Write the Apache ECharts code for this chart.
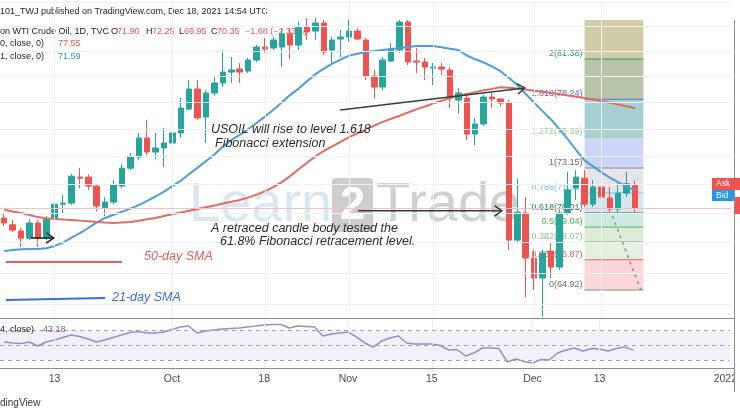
<!DOCTYPE html>
<html>
<head>
<meta charset="utf-8">
<script src="https://cdn.jsdelivr.net/npm/echarts@6/dist/echarts.min.js"></script>
<style>
html,body{margin:0;padding:0;background:#fff;}
#chart{width:740px;height:416px;}
</style>
</head>
<body>
<div id="chart"></div>
<script>
// ---------- categories (daily bars) ----------
const dates = [
'2021-09-03','2021-09-06','2021-09-07','2021-09-08','2021-09-09','2021-09-10','2021-09-13','2021-09-14','2021-09-15','2021-09-16','2021-09-17','2021-09-20','2021-09-21','2021-09-22','2021-09-23','2021-09-24','2021-09-27','2021-09-28','2021-09-29','2021-09-30',
'2021-10-01','2021-10-04','2021-10-05','2021-10-06','2021-10-07','2021-10-08','2021-10-11','2021-10-12','2021-10-13','2021-10-14','2021-10-15','2021-10-18','2021-10-19','2021-10-20','2021-10-21','2021-10-22','2021-10-25','2021-10-26','2021-10-27','2021-10-28','2021-10-29',
'2021-11-01','2021-11-02','2021-11-03','2021-11-04','2021-11-05','2021-11-08','2021-11-09','2021-11-10','2021-11-11','2021-11-12','2021-11-15','2021-11-16','2021-11-17','2021-11-18','2021-11-19','2021-11-22','2021-11-23','2021-11-24','2021-11-25','2021-11-26','2021-11-29','2021-11-30',
'2021-12-01','2021-12-02','2021-12-03','2021-12-06','2021-12-07','2021-12-08','2021-12-09','2021-12-10','2021-12-13','2021-12-14','2021-12-15','2021-12-16','2021-12-17','2021-12-20','2021-12-21','2021-12-22','2021-12-23','2021-12-24','2021-12-27','2021-12-28','2021-12-29','2021-12-30','2021-12-31',
'2022-01-03'];

const tickLabels = {'2021-09-13':'13','2021-10-01':'Oct','2021-10-18':'18','2021-11-01':'Nov','2021-11-15':'15','2021-12-01':'Dec','2021-12-13':'13','2022-01-03':'2022'};

// ---------- OHLC ----------
const open = [69.66,69.20,68.77,68.30,69.32,68.30,69.59,70.61,70.68,72.50, 72.50,71.87,70.34,70.75,71.87,73.14,73.94,75.33,74.30,74.60, 74.96,75.70,77.49,79.03,76.89,78.72,79.50,80.35,80.59,80.43, 81.30,82.34,82.26,82.34,83.40,82.50,83.97,83.64,84.30,82.10, 82.99,83.15,83.64,82.91,80.04,79.18,81.22,82.10,84.38,81.22, 81.14,80.67,80.75,80.51,78.18,78.33,75.62,76.37,78.41,78.26, 77.95,68.17,70.00,66.98,65.69,67.44,66.39,70.00,71.73,72.43, 70.61,71.80,71.03,70.27,71.38,71.90];
const high = [69.93,69.52,68.97,69.59,69.52,69.79,71.03,71.24,72.71,73.14, 72.71,72.01,71.10,72.29,73.43,74.23,75.70,76.67,75.70,76.07, 76.14,78.33,79.73,79.73,78.95,79.96,82.10,81.54,81.06,81.46, 82.50,83.07,83.15,83.88,83.88,84.38,84.72,84.72,84.55,83.15, 83.72,84.55,83.88,83.07,80.51,81.54,82.67,84.55,84.55,82.26, 81.46,81.06,81.06,80.75,79.10,78.72,76.82,78.56,78.72,78.33, 78.18,72.40,71.10,67.51,67.51,67.97,70.20,72.86,73.00,73.00, 72.29,72.86,71.80,72.08,72.86,72.25];
const low = [69.11,68.70,67.71,68.17,67.71,68.17,69.38,69.99,70.54,71.73, 71.59,70.10,69.79,70.61,71.73,73.00,73.72,74.09,73.79,73.21, 74.30,75.33,77.42,76.67,74.96,78.50,79.18,79.50,79.50,80.28, 81.14,81.86,82.10,80.75,81.40,82.10,82.91,82.91,81.70,80.90, 81.54,82.75,82.91,79.73,78.33,78.95,81.14,81.90,80.90,80.28, 79.73,79.34,80.12,77.57,77.19,75.18,74.82,76.22,77.57,77.72, 67.51,68.04,64.48,64.92,63.23,65.69,66.20,69.86,70.89,70.41, 70.41,70.41,70.00,70.00,71.10,69.95];
const close = [69.32,68.84,68.30,69.32,68.30,69.59,70.61,70.68,72.57,72.43, 71.87,70.48,70.75,71.94,73.14,73.94,75.33,74.30,74.60,74.96, 75.70,77.57,79.03,76.82,78.72,79.50,80.35,80.51,80.35,81.30, 82.34,82.18,82.91,83.40,82.50,83.95,83.56,84.30,81.94,82.91, 83.15,83.64,82.99,80.04,79.18,81.30,82.18,84.38,81.14,81.14, 80.75,80.75,80.59,78.33,78.72,75.62,76.37,78.41,78.26,77.95, 68.17,70.06,66.98,65.69,67.31,66.39,70.00,71.59,72.50,70.61, 71.80,71.10,70.27,71.38,72.03,70.35];

// ---------- indicators ----------
const sma21 = [67.44,67.51,67.56,67.58,67.58,67.63,67.78,68.00,68.34,68.64, 68.98,69.36,69.66,69.88,70.09,70.30,70.54,70.83,71.14,71.48, 71.87,72.25,72.72,73.18,73.65,74.12,74.70,75.17,75.56,75.99, 76.44,76.92,77.44,77.99,78.56,79.06,79.63,80.19,80.62,81.02, 81.34,81.66,81.81,81.94,82.02,82.10,82.18,82.26,82.34,82.42, 82.42,82.42,82.32,82.21,82.10,81.66,81.36,81.11,80.79,80.42, 79.91,79.34,78.64,77.98,77.34,76.71,75.99,75.25,74.45,73.70, 73.27,72.84,72.47,72.14,71.80,71.59];
const sma50 = [70.22,70.10,70.00,69.86,69.72,69.64,69.59,69.56,69.53,69.48, 69.44,69.39,69.35,69.32,69.35,69.38,69.47,69.57,69.66,69.80, 69.92,70.04,70.16,70.28,70.40,70.52,70.65,70.77,70.90,71.06, 71.27,71.51,71.80,72.15,72.58,73.06,73.53,73.99,74.38,74.72, 75.05,75.40,75.68,75.96,76.25,76.53,76.76,76.99,77.23,77.47, 77.69,77.91,78.13,78.35,78.51,78.65,78.79,78.93,79.04,79.17, 79.13,79.06,78.99,78.90,78.81,78.73,78.63,78.53,78.43,78.33, 78.23,78.11,77.98,77.84,77.70,77.55];
const rsi14 = [54,52.7,52,54,48.7,54,56.7,60,63.3,61.3, 58,54,56.7,60,63.3,66.7,68,66,66,67.3, 70.7,74,75.3,66,68.7,70,71.3,72,72.7,74, 75.3,76.7,77.3,77.3,72.7,75.3,74.7,74,62,64.7, 66,67.3,60.7,52.7,47.3,55.3,59.3,62,52.7,51.3, 51.3,51.3,49.3,43.3,44,35.3,39.3,46,46,45.3, 27.3,31.3,28,26,30.7,30,39.3,43.3,46,42, 45.3,44.7,42,45.3,47.3,43.18];
const rsiBands = [70, 50, 30];

// ---------- fibonacci drawing ----------
const fibRatios = ['0','0.236','0.382','0.5','0.618','0.786','1','1.272','1.618','2'];
const fibPrices = [64.92,66.87,68.07,69.04,70.01,71.39,73.15,75.39,78.24,81.38];
const fibTopPrice = 84.55;
const fibStart = '2021-12-09', fibEnd = '2021-12-20';
const fibFill = ['#f9d7d7','#e4f1e0','#d9edd7','#cfe8e2','#d7e5ee','#e4e4ea','#cdd6f8','#a7d0d2','#b8c4a8','#d1cca8'];
const fibLine = ['#8a8a8a','#ef6060','#9ccf9a','#5cb860','#2b8f80','#86c7e6','#8e8e8e','#a3cf8c','#4c6fd6','#3e9277'];
const fibText = ['#6d6d6d','#e85a55','#8cc58a','#4caf50','#1f7a6d','#7dc1e4','#6d6d6d','#9ccb86','#5a62d2','#3a9478'];
const fibTrend = [[72.3, 69.8], [75.7, 64.92]];

// ---------- user annotations (bar position, price) ----------
const arrows = [[3.16, 68.31, 5.87, 68.31], [39.95, 77.42, 61.88, 79.11], [42.07, 70.15, 59.17, 70.15]];
const legendRed = [0.21, 66.72, 14.0, 66.72];
const legendBlue = [0.21, 64.29, 12.0, 64.42];
const gridPrices = [64,66,68,70,72,74,76,78,80,82,84,86];
const vGridDates = ['2021-09-13','2021-10-01','2021-10-18','2021-11-01','2021-11-15','2021-12-01','2021-12-13'];

const candles = open.map((o, i) => [o, close[i], low[i], high[i]]);
const FONT = '"Liberation Sans", Arial, sans-serif';
const STEP = 8.48, NCAT = dates.length;

const option = {
  animation: false,
  backgroundColor: '#ffffff',
  grid: [
    {left: -6, top: 0, width: NCAT * STEP, height: 318},
    {left: -6, top: 318, width: NCAT * STEP, height: 50}
  ],
  xAxis: [
    {type: 'category', data: dates, gridIndex: 0, boundaryGap: true, show: false},
    {type: 'category', data: dates, gridIndex: 1, boundaryGap: true,
      axisLine: {show: false}, axisTick: {show: false}, splitLine: {show: false},
      axisLabel: {interval: (i, v) => tickLabels[v] !== undefined, formatter: v => tickLabels[v] || '',
        color: '#4d4d4d', fontSize: 10.5, margin: 6, fontFamily: FONT}}
  ],
  yAxis: [
    {type: 'log', logBase: 10, gridIndex: 0, min: 63.166, max: 86.22, show: false, splitLine: {show: false}},
    {type: 'value', gridIndex: 1, min: 19.33, max: 86, show: false, splitLine: {show: false}}
  ],
  series: [
    {type: 'line', xAxisIndex: 0, yAxisIndex: 0, data: [], z: 0, silent: true,
      markLine: {silent: true, symbol: ['none', 'none'], label: {show: false}, animation: false,
        lineStyle: {color: '#eff1f5', width: 1, type: 'solid'},
        data: gridPrices.map(p => ({yAxis: p})).concat(vGridDates.map(d => ({xAxis: d})))}},
    {type: 'line', xAxisIndex: 1, yAxisIndex: 1, data: [], z: 0, silent: true,
      markLine: {silent: true, symbol: ['none', 'none'], label: {show: false}, animation: false,
        lineStyle: {color: '#eff1f5', width: 1, type: 'solid'},
        data: vGridDates.map(d => ({xAxis: d}))}},
    {type: 'candlestick', name: 'USOIL', xAxisIndex: 0, yAxisIndex: 0, data: candles, barWidth: 6, z: 3,
      itemStyle: {color: '#26a69a', color0: '#ef5350', borderColor: '#26a69a', borderColor0: '#ef5350', borderWidth: 1},
      markLine: {silent: true, symbol: ['none', 'none'], label: {show: false}, animation: false,
        lineStyle: {color: '#f1c3c1', width: 1, type: 'solid'},
        data: [{yAxis: close[close.length - 1]}]}},
    {type: 'line', name: 'SMA 21', xAxisIndex: 0, yAxisIndex: 0, data: sma21, showSymbol: false, z: 4,
      lineStyle: {color: '#4d9ddb', width: 2}},
    {type: 'line', name: 'SMA 50', xAxisIndex: 0, yAxisIndex: 0, data: sma50, showSymbol: false, z: 4,
      lineStyle: {color: '#e46a62', width: 2}},
    {type: 'line', name: 'RSI', xAxisIndex: 1, yAxisIndex: 1, data: rsi14, showSymbol: false, z: 4,
      lineStyle: {color: '#9a8ad2', width: 1.5},
      markArea: {silent: true, itemStyle: {color: 'rgba(126,87,194,0.09)'},
        data: [[{yAxis: rsiBands[0]}, {yAxis: rsiBands[2]}]]},
      markLine: {silent: true, symbol: ['none', 'none'], label: {show: false}, animation: false,
        lineStyle: {color: '#a3a3a3', width: 1, type: [4, 4]},
        data: rsiBands.map(v => ({yAxis: v}))}}
  ]
};

const chart = echarts.init(document.getElementById('chart'));
chart.setOption(option);

const px = d => chart.convertToPixel({xAxisIndex: 0}, d);
const x0 = px(dates[0]), step = px(dates[1]) - x0;
const xf = f => x0 + f * step;
const yp = p => chart.convertToPixel({yAxisIndex: 0}, p);

const g = [];
function txt(x, y, text, color, size, o) {
  o = o || {};
  g.push({type: 'text', x: x, y: y, z: o.z == null ? 10 : o.z, silent: true,
    style: {text: text, fill: color, font: (o.style || '') + ' ' + (o.weight || '') + ' ' + size + 'px ' + FONT,
      align: o.align || 'left', textAlign: o.align || 'left', verticalAlign: o.va || 'middle', textVerticalAlign: o.va || 'middle'}});
}
function line(x1, y1, x2, y2, color, w, z, dash) {
  g.push({type: 'line', z: z, silent: true, shape: {x1: x1, y1: y1, x2: x2, y2: y2},
    style: {stroke: color, lineWidth: w, lineDash: dash || null}});
}
function rect(x, y, w, h, fill, z, r) {
  g.push({type: 'rect', z: z, silent: true, shape: {x: x, y: y, width: w, height: h, r: r || 0}, style: {fill: fill}});
}
function arrow(x1, y1, x2, y2, color) {
  line(x1, y1, x2, y2, color, 1.5, 10);
  const a = Math.atan2(y2 - y1, x2 - x1), L = 9, s = 0.62;
  g.push({type: 'polyline', z: 10, silent: true,
    shape: {points: [[x2 - L * Math.cos(a - s), y2 - L * Math.sin(a - s)], [x2, y2], [x2 - L * Math.cos(a + s), y2 - L * Math.sin(a + s)]]},
    style: {stroke: color, lineWidth: 1.5, fill: 'none'}});
}

// watermark
txt(189, 206, 'Learn', '#d8e7f2', 56, {z: 0});
rect(332, 178, 41, 54, '#cdcdcd', 0, 4);
txt(352.5, 206, '2', '#ffffff', 46, {z: 0, align: 'center', weight: 'bold'});
txt(376, 206, 'Trade', '#d0d0d0', 56, {z: 0});

// fibonacci
const fx1 = px(fibStart), fx2 = px(fibEnd);
for (let k = 0; k < fibPrices.length; k++) {
  const yLo = yp(fibPrices[k]);
  const yHi = yp(k < fibPrices.length - 1 ? fibPrices[k + 1] : fibTopPrice);
  rect(fx1, yHi, fx2 - fx1, yLo - yHi, fibFill[k], 1);
}
for (let k = 0; k < fibPrices.length; k++) {
  const y = yp(fibPrices[k]);
  line(fx1, y, fx2, y, fibLine[k], 1, 1);
  txt(fx1 - 2, y - 1, fibRatios[k] + '(' + fibPrices[k].toFixed(2) + ')', fibText[k], 9, {z: 1, align: 'right', va: 'bottom'});
}
line(xf(fibTrend[0][0]), yp(fibTrend[0][1]), xf(fibTrend[1][0]), yp(fibTrend[1][1]), '#8f8f8f', 1.5, 5, [3, 4]);

// arrows & legend lines
arrows.forEach((a, k) => arrow(xf(a[0]), yp(a[1]), xf(a[2]), yp(a[3]), k === 0 ? '#1e1e1e' : '#2c4438'));
line(xf(legendRed[0]), yp(legendRed[1]), xf(legendRed[2]), yp(legendRed[3]), '#e0605a', 2, 10);
line(xf(legendBlue[0]), yp(legendBlue[1]), xf(legendBlue[2]), yp(legendBlue[3]), '#3f6fd6', 2, 10);

// annotation text
txt(211, 130, 'USOIL will rise to level 1.618', '#2d2d2d', 12.5, {style: 'italic'});
txt(215, 144, 'Fibonacci extension', '#2d2d2d', 12.5, {style: 'italic'});
txt(211, 229, 'A retraced candle body tested the', '#2d2d2d', 12.5, {style: 'italic'});
txt(220, 242, '61.8% Fibonacci retracement level.', '#2d2d2d', 12.5, {style: 'italic'});
txt(144, 257, '50-day SMA', '#e0605a', 12.5, {style: 'italic'});
txt(112, 298, '21-day SMA', '#3f6fd6', 12.5, {style: 'italic'});

// header legend
const dark = '#222631', red = '#ef5350';
txt(0, 11.5, '101_TWJ published on TradingView.com, Dec 18, 2021 14:54 UTC', dark, 9, {z: 1});
txt(0, 31.5, 'on WTI Crude Oil, 1D, TVC', dark, 9, {z: 1});
[[111, 'O', dark], [117, '71.90', red], [146, 'H', dark], [152, '72.25', red], [179, 'L', dark], [184, '69.95', red],
 [211, 'C', dark], [217, '70.35', red], [245, '\u22121.68 (\u22122.33%)', red]].forEach(t => txt(t[0], 31.5, t[1], t[2], 9, {z: 1}));
txt(0, 44, '0, close, 0)', dark, 9, {z: 1});
txt(58, 44, '77.55', red, 9, {z: 1});
txt(0, 57, '1, close, 0)', dark, 9, {z: 1});
txt(58, 57, '71.59', '#2196f3', 9, {z: 1});
txt(0, 330, '4, close)', dark, 9, {z: 12});
txt(43, 330, '43.18', '#7e57c2', 9, {z: 12});

// panel borders and right scale cover
line(0, 318.5, 734, 318.5, '#8c8c8c', 1, 20);
line(0, 368.5, 734, 368.5, '#8c8c8c', 1, 20);
rect(734, 0, 6, 416, '#ffffff', 50);
line(734.5, 20, 734.5, 392, '#8c8c8c', 1, 55);
rect(712, 178, 28, 12, '#ef5350', 60);
txt(716, 184, 'Ask', '#ffffff', 8.5, {z: 61});
rect(712, 190, 22, 11, '#2196f3', 60);
txt(716, 195.5, 'Bid', '#ffffff', 8.5, {z: 61});
rect(735, 197, 5, 17, '#ef5350', 60);

// footer
txt(0, 403, 'dingView', '#333333', 10, {z: 20});

chart.setOption({graphic: {elements: g}});
</script>
</body>
</html>
